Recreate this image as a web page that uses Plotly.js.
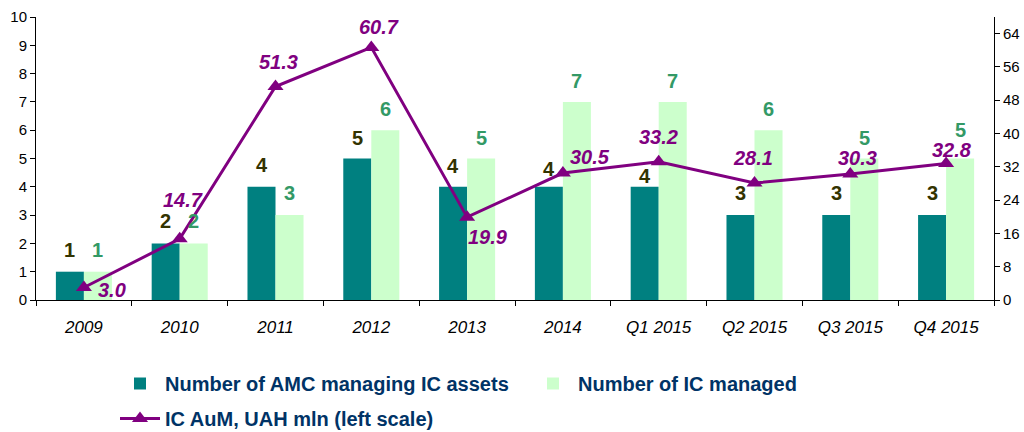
<!DOCTYPE html>
<html>
<head>
<meta charset="utf-8">
<script src="https://cdn.plot.ly/plotly-3.0.1.min.js"></script>
<style>html,body{margin:0;padding:0;background:#fff;}#chart{width:1024px;height:432px;}</style>
</head>
<body>
<div id="chart"></div>
<script>
// ---- data ----
var categories = ["2009","2010","2011","2012","2013","2014","Q1 2015","Q2 2015","Q3 2015","Q4 2015"];
var amcCount   = [1, 2, 4, 5, 4, 4, 4, 3, 3, 3];
var icCount    = [1, 2, 3, 6, 5, 7, 7, 6, 5, 5];
var icAuM      = [3.0, 14.7, 51.3, 60.7, 19.9, 30.5, 33.2, 28.1, 30.3, 32.8];
var seriesNames = ["Number of AMC managing IC assets", "Number of IC managed", "IC AuM, UAH mln (left scale)"];

// label placement (px)
var amcLabelDy  = [22, 22, 22, 21, 21, 18, 11, 22, 22, 22];
var icLabelDy   = [22, 22, 22, 21, 21, 21, 21, 21, 21, 29];
var lineLabelDx = [28, 3, 3, 8, 21, 27, 0, -2, 7, 6];
var lineLabelDy = [-2, 39, 25, 20, -20, 16, 25, 25, 16, 13];

var FONT = "Liberation Sans, Arial, Helvetica, sans-serif";
var TEAL = "#008080", LIGHT = "#CCFFCC", PURPLE = "#800080";

var traces = [
  {type: "bar", name: seriesNames[0], x: categories, y: amcCount, marker: {color: TEAL}, yaxis: "y", legend: "legend"},
  {type: "bar", name: seriesNames[1], x: categories, y: icCount, marker: {color: LIGHT}, yaxis: "y", legend: "legend"},
  {type: "scatter", mode: "lines+markers", name: seriesNames[2], x: categories, y: icAuM, yaxis: "y2", legend: "legend2",
   line: {color: PURPLE, width: 3}, marker: {symbol: "triangle-up", size: 14, color: PURPLE}}
];

var annotations = [];
categories.forEach(function (c, i) {
  annotations.push({xref: "x", yref: "y", x: i, y: amcCount[i], xshift: -14, yshift: amcLabelDy[i], showarrow: false,
    text: String(amcCount[i]), font: {family: FONT, size: 20, color: "#333300", weight: "bold"}});
  annotations.push({xref: "x", yref: "y", x: i, y: icCount[i], xshift: 14, yshift: icLabelDy[i], showarrow: false,
    text: String(icCount[i]), font: {family: FONT, size: 20, color: "#339966", weight: "bold"}});
  annotations.push({xref: "x", yref: "y2", x: i, y: icAuM[i], xshift: lineLabelDx[i], yshift: lineLabelDy[i], showarrow: false,
    text: icAuM[i].toFixed(1), font: {family: FONT, size: 20, color: PURPLE, weight: "bold", style: "italic"}});
});

var legendFont = {family: FONT, size: 20, color: "#003366", weight: "bold"};

var layout = {
  width: 1024, height: 432,
  margin: {l: 36, r: 30, t: 17, b: 132, pad: 0, autoexpand: false},
  paper_bgcolor: "#ffffff", plot_bgcolor: "#ffffff",
  font: {family: FONT, color: "#000"},
  barmode: "group", bargap: 0.415, bargroupgap: 0,
  xaxis: {type: "category", categoryorder: "array", categoryarray: categories, range: [-0.5, categories.length - 0.5], autorange: false,
    showline: true, linecolor: "#000", linewidth: 1, ticks: "outside", ticklen: 5,
    tickcolor: "#000", tickson: "boundaries", showgrid: false, zeroline: false, tickangle: 0, ticklabelstandoff: 12,
    tickfont: {family: FONT, size: 17, style: "italic", color: "#000"}},
  yaxis: {range: [0, 10], autorange: false, dtick: 1, showline: true, linecolor: "#000", linewidth: 1, ticks: "outside", ticklen: 5,
    tickcolor: "#000", showgrid: false, zeroline: false, tickfont: {family: FONT, size: 15, color: "#000"}},
  yaxis2: {range: [0, 68], autorange: false, dtick: 8, overlaying: "y", side: "right", showline: true, linecolor: "#000", linewidth: 1,
    ticks: "outside", ticklen: 5, tickcolor: "#000", showgrid: false, zeroline: false,
    tickfont: {family: FONT, size: 15, color: "#000"}},
  showlegend: true,
  legend: {orientation: "h", xref: "container", yref: "container", x: 115 / 1024, xanchor: "left", y: (432 - 364) / 432, yanchor: "top",
    entrywidth: 358, itemwidth: 40, font: legendFont, bgcolor: "rgba(0,0,0,0)", traceorder: "normal"},
  legend2: {orientation: "h", xref: "container", yref: "container", x: 115 / 1024, xanchor: "left", y: (432 - 399) / 432, yanchor: "top",
    itemwidth: 40, font: legendFont, bgcolor: "rgba(0,0,0,0)"},
  annotations: annotations
};

Plotly.newPlot("chart", traces, layout, {displayModeBar: false, staticPlot: true});
</script>
</body>
</html>
